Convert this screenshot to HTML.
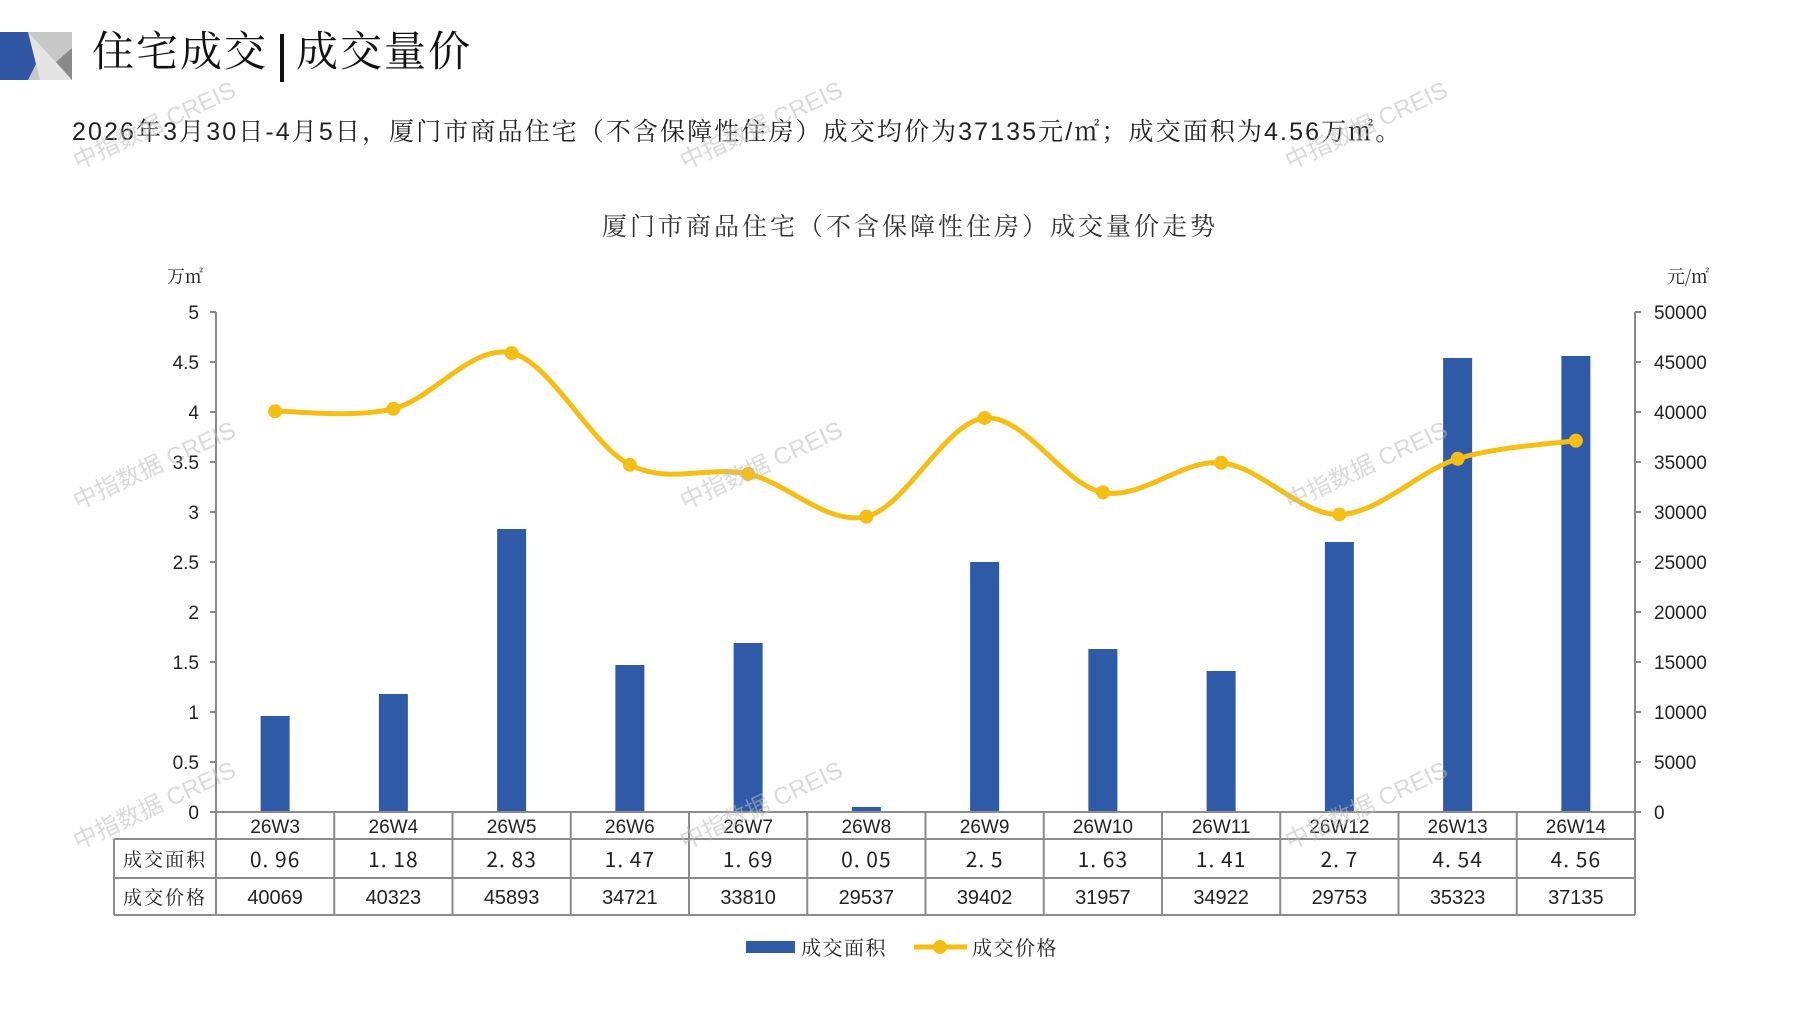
<!DOCTYPE html>
<html><head><meta charset="utf-8">
<style>
body{margin:0;background:#fff;}
#wrap{position:relative;width:1797px;height:1010px;overflow:hidden;background:#fff;font-family:"Liberation Sans","Noto Sans CJK SC",sans-serif;}
</style></head>
<body>
<div id="wrap">
<svg id="svg" width="1797" height="1010" xmlns="http://www.w3.org/2000/svg">
  <g>
    <rect x="0" y="32" width="72" height="48" fill="#c8c8c8"/>
    <polygon points="0,32 28,32 40,56 28,80 0,80" fill="#2f55a4"/>
    <polygon points="28,32 72,80 40,80" fill="#e4e4e4"/>
    <polygon points="56,62 72,48 72,80" fill="#8a8a8a"/>
  </g>
  <text x="92" y="66" font-size="42" fill="#111" letter-spacing="2" font-family="'Noto Serif CJK SC','Noto Sans CJK SC',sans-serif">住宅成交</text>
  <rect x="280" y="34" width="4" height="48" fill="#111"/>
  <text x="296" y="66" font-size="42" fill="#111" letter-spacing="2" font-family="'Noto Serif CJK SC','Noto Sans CJK SC',sans-serif">成交量价</text>
  <text x="72" y="140" font-size="25" fill="#222" letter-spacing="2.1" font-family="'Liberation Sans','Noto Serif CJK SC',sans-serif">2026年3月30日-4月5日，厦门市商品住宅（不含保障性住房）成交均价为37135元/㎡；成交面积为4.56万㎡。</text>
  <text x="910" y="235" font-size="25" text-anchor="middle" fill="#333" letter-spacing="3" font-family="'Noto Serif CJK SC','Noto Sans CJK SC',sans-serif">厦门市商品住宅（不含保障性住房）成交量价走势</text>
  <text x="185" y="283" font-size="18" text-anchor="middle" fill="#222" font-family="'Noto Serif CJK SC','Noto Sans CJK SC',sans-serif">万㎡</text>
  <text x="1688" y="283" font-size="18" text-anchor="middle" fill="#222" font-family="'Noto Serif CJK SC','Noto Sans CJK SC',sans-serif">元/㎡</text>
  <g id="plot"></g>
  <g id="marks"></g>
  <g id="table"></g>
  <g>
    <g>
      <rect x="746" y="941" width="49" height="12" fill="#2e5aa8"/>
      <text x="801" y="955" font-size="20" fill="#222" letter-spacing="1.5" font-family="'Noto Serif CJK SC',sans-serif">成交面积</text>
    </g>
    <g>
      <line x1="914" y1="947" x2="967" y2="947" stroke="#f5be14" stroke-width="5"/>
      <circle cx="940" cy="947" r="7" fill="#f5be14"/>
      <text x="972" y="955" font-size="20" fill="#222" letter-spacing="1.5" font-family="'Noto Serif CJK SC',sans-serif">成交价格</text>
    </g>
  </g>
  <g id="wm"></g>
</svg>
</div>
<script>
const categories=["26W3","26W4","26W5","26W6","26W7","26W8","26W9","26W10","26W11","26W12","26W13","26W14"];
const areaValues=[0.96,1.18,2.83,1.47,1.69,0.05,2.5,1.63,1.41,2.7,4.54,4.56];
const priceValues=[40069,40323,45893,34721,33810,29537,39402,31957,34922,29753,35323,37135];
const areaTickLabels=["0","0.5","1","1.5","2","2.5","3","3.5","4","4.5","5"];
const priceTickLabels=["0","5000","10000","15000","20000","25000","30000","35000","40000","45000","50000"];

const NS="http://www.w3.org/2000/svg";
const L=216,R=1635,T=312,B=812;
const colW=(R-L)/categories.length;
function xC(i){return L+colW*(i+0.5);}
function yA(v){return B-(v/5)*(B-T);}
function yP(v){return B-(v/50000)*(B-T);}
function mk(tag,attrs,parent){const e=document.createElementNS(NS,tag);for(const k in attrs)e.setAttribute(k,attrs[k]);parent.appendChild(e);return e;}
const plot=document.getElementById('plot'),marks=document.getElementById('marks'),table=document.getElementById('table'),wm=document.getElementById('wm');

let ax=mk('line',{x1:L,y1:T,x2:L,y2:B,stroke:'#888','stroke-width':2},plot);


let ax2=mk('line',{x1:R,y1:T,x2:R,y2:B,stroke:'#888','stroke-width':2},plot);


areaTickLabels.forEach((t,i)=>{
  const v=parseFloat(t),y=yA(v);
  mk('line',{x1:L-6,y1:y,x2:L,y2:y,stroke:'#888','stroke-width':2},plot);
  const tx=mk('text',{x:199,y:y+7,'font-size':19,'text-anchor':'end',fill:'#222'},plot);
  tx.textContent=t;
  
  
});
priceTickLabels.forEach((t,i)=>{
  const v=parseFloat(t),y=yP(v);
  mk('line',{x1:R,y1:y,x2:R+6,y2:y,stroke:'#888','stroke-width':2},plot);
  const tx=mk('text',{x:1654,y:y+7,'font-size':19,'text-anchor':'start',fill:'#222'},plot);
  tx.textContent=t;
  
  
});

areaValues.forEach((v,i)=>{
  const bw=29,y=yA(v);
  const r=mk('rect',{x:xC(i)-bw/2,y:y,width:bw,height:B-y,fill:'#2e5aa8'},marks);
  
  
});
const pts=priceValues.map((v,i)=>[xC(i),yP(v)]);
let d='M'+pts[0][0]+','+pts[0][1];
for(let i=0;i<pts.length-1;i++){
  const p0=pts[Math.max(0,i-1)],p1=pts[i],p2=pts[i+1],p3=pts[Math.min(pts.length-1,i+2)];
  const k=1/6;
  const c1=[p1[0]+(p2[0]-p0[0])*k,p1[1]+(p2[1]-p0[1])*k];
  const c2=[p2[0]-(p3[0]-p1[0])*k,p2[1]-(p3[1]-p1[1])*k];
  d+=' C'+c1[0]+','+c1[1]+' '+c2[0]+','+c2[1]+' '+p2[0]+','+p2[1];
}
const line=mk('path',{d:d,fill:'none',stroke:'#f5be14','stroke-width':5,'stroke-linecap':'round'},marks);


pts.forEach((p,i)=>{
  const c=mk('circle',{cx:p[0],cy:p[1],r:7,fill:'#f5be14'},marks);
  
  
});

const TL=114;
const g='#8c8c8c';
mk('line',{x1:L,y1:812,x2:R,y2:812,stroke:g,'stroke-width':2},table);
mk('line',{x1:TL,y1:839,x2:R,y2:839,stroke:g,'stroke-width':2},table);
mk('line',{x1:TL,y1:878,x2:R,y2:878,stroke:g,'stroke-width':2},table);
mk('line',{x1:TL,y1:915,x2:R,y2:915,stroke:g,'stroke-width':2},table);
mk('line',{x1:TL,y1:839,x2:TL,y2:915,stroke:g,'stroke-width':2},table);
for(let i=0;i<=categories.length;i++){
  mk('line',{x1:L+colW*i,y1:812,x2:L+colW*i,y2:915,stroke:g,'stroke-width':2},table);
}
const h1=mk('text',{x:(TL+L)/2,y:866,'font-size':19,'text-anchor':'middle',fill:'#222','font-family':"'Noto Serif CJK SC',sans-serif",'letter-spacing':'2'},table);
h1.textContent='成交面积';


const h2=mk('text',{x:(TL+L)/2,y:904,'font-size':19,'text-anchor':'middle',fill:'#222','font-family':"'Noto Serif CJK SC',sans-serif",'letter-spacing':'2'},table);
h2.textContent='成交价格';


categories.forEach((c,i)=>{
  const t1=mk('text',{x:xC(i),y:833,'font-size':19,'text-anchor':'middle',fill:'#222'},table);
  t1.textContent=c;
  
  
  const t2=mk('text',{x:xC(i),y:867,'font-size':21,'text-anchor':'middle',fill:'#222','letter-spacing':'1','font-family':"'Noto Sans CJK SC',sans-serif"},table);
  t2.textContent=String(areaValues[i]).replace('.','. ');
  
  
  const t3=mk('text',{x:xC(i),y:904,'font-size':20,'text-anchor':'middle',fill:'#222'},table);
  t3.textContent=priceValues[i];
  
  
});

[[78,170],[685,170],[1290,170],[78,510],[685,510],[1290,510],[78,850],[685,850],[1290,850]].forEach(p=>{
  const w=mk('text',{x:p[0],y:p[1],'font-size':24,fill:'#bbb','fill-opacity':0.55,transform:'rotate(-25 '+p[0]+' '+p[1]+')','font-family':"'Liberation Sans','Noto Sans CJK SC',sans-serif"},wm);
  w.textContent='中指数据 CREIS';
  
  
});
</script>
</body></html>
